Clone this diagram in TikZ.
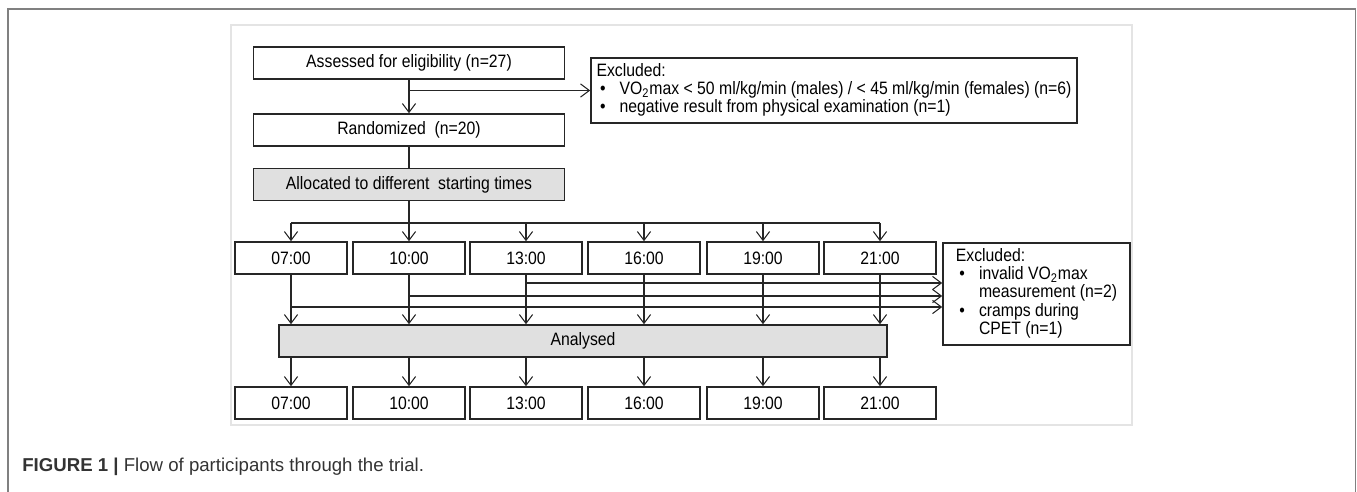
\documentclass[tikz,border=0pt]{standalone}
\usepackage{fontspec}
\setmainfont[FakeStretch=0.88]{Liberation Sans}
\newfontfamily\capfont{Liberation Sans}
\usepackage{xcolor}
\usepackage{tikz}
\usetikzlibrary{arrows.meta}

\definecolor{framegray}{HTML}{808080}
\definecolor{panelgray}{HTML}{E4E4E4}
\definecolor{boxfill}{HTML}{E0E0E0}
\definecolor{capgray}{HTML}{333333}

\tikzset{
  flowbox/.style={draw=black!85, line width=0.9pt, minimum height=32*0.2mm,
                  inner sep=0pt, font=\fontsize{10.2}{9.9}\selectfont},
  mainbox/.style={flowbox, minimum width=311*0.2mm},
  timebox/.style={flowbox, minimum width=112*0.2mm},
  greybox/.style={fill=boxfill},
  exclbox/.style={flowbox, align=left},
  flowline/.style={line width=0.6pt, black!85}
}

\newcommand{\exbullet}{\hspace{2pt}\textbullet}

\begin{document}
\begin{tikzpicture}[x=0.2mm, y=-0.2mm, >={Straight Barb[length=5pt,width=7.5pt]}]
  \useasboundingbox (0,0) rectangle (1357,491);
  % frames
  \draw[framegray, line width=1.1pt] (8,495) -- (8,9) -- (1355.5,9) -- (1355.5,495);
  \draw[panelgray, line width=1pt] (231,25) rectangle (1132,425);
  % enrolment
  \node[mainbox] (assessed) at (409,63) {Assessed for eligibility (n=27)};
  \node[mainbox] (random) at (409,130) {Randomized~ (n=20)};
  \node[mainbox, greybox] (alloc) at (409,184.5) {Allocated to different~ starting times};
  \node[exclbox, minimum width=486*0.2mm, minimum height=65*0.2mm] (excla) at (834,90.5)
    {\begin{tabular}{@{}l@{\hspace{8pt}}l@{}}
       \multicolumn{2}{@{}l@{}}{Excluded:}\\
       \exbullet & VO\textsubscript{2}max < 50 ml/kg/min (males) / < 45 ml/kg/min (females) (n=6)\\
       \exbullet & negative result from physical examination (n=1)
     \end{tabular}};
  \draw[flowline, ->] (assessed) -- (random);
  \draw[flowline, ->] (assessed.south |- excla.west) -- (excla.west);
  \draw[flowline] (random) -- (alloc);
  % starting times and analysis
  \coordinate (split) at (409,223);
  \foreach \t/\x [count=\i] in {07:00/291, 10:00/409, 13:00/526, 16:00/644, 19:00/763, 21:00/880}{
    \node[timebox] (start\i) at (\x,258) {\t};
    \node[timebox] (final\i) at (\x,403) {\t};
  }
  \node[flowbox, greybox, minimum width=608*0.2mm] (analysed) at (583,341) {Analysed};
  \node[exclbox, minimum width=187*0.2mm, minimum height=102*0.2mm] (exclb) at (1036.5,294)
    {\begin{tabular}{@{}l@{\hspace{8pt}}l@{}}
       \multicolumn{2}{@{}l@{}}{Excluded:}\\
       \exbullet & invalid VO\textsubscript{2}max\\
                 & measurement (n=2)\\
       \exbullet & cramps during\\
                 & CPET (n=1)
     \end{tabular}};
  \draw[flowline] (alloc) -- (split);
  \draw[flowline] (start1.north |- split) -- (start6.north |- split);
  \foreach \i in {1,...,6}{
    \draw[flowline, ->] (start\i.north |- split) -- (start\i.north);
    \draw[flowline, ->] (start\i.south) -- (start\i.south |- analysed.north);
    \draw[flowline, ->] (final\i.north |- analysed.south) -- (final\i.north);
  }
  % drop-outs
  \coordinate (drop3) at (526,283);
  \coordinate (drop2) at (409,296);
  \coordinate (drop1) at (291,307);
  \foreach \d in {1,2,3}{\draw[flowline, ->] (drop\d) -- (drop\d -| exclb.west);}
  % caption
  \node[anchor=west, inner sep=0pt, text=capgray, font=\capfont\fontsize{10.6}{12}\selectfont] (caption) at (22,467)
    {\textbf{FIGURE 1} \textbf{|} Flow of participants through the trial.};
\end{tikzpicture}
\end{document}
